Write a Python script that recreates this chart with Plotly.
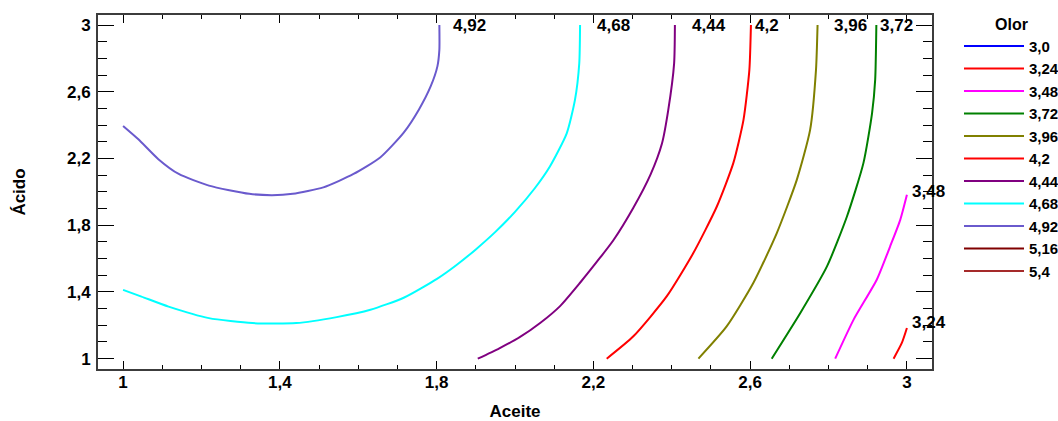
import plotly.graph_objects as go

# Contour levels of the fitted response "Olor" over Aceite (x) and Ácido (y)
levels = [3.0, 3.24, 3.48, 3.72, 3.96, 4.2, 4.44, 4.68, 4.92, 5.16, 5.4]
level_names = ["3,0", "3,24", "3,48", "3,72", "3,96", "4,2", "4,44", "4,68", "4,92", "5,16", "5,4"]
level_colors = ["#0000FF", "#FF0000", "#FF00FF", "#008000", "#808000", "#FF0000",
                "#800080", "#00FFFF", "#6A5ACD", "#800000", "#A52A2A"]

# Traced contour paths (Aceite, Ácido) for each level that crosses the region
aceite_324 = [2.966, 2.987, 3.0]
acido_324 = [1.0, 1.094, 1.184]

aceite_348 = [2.817, 2.864, 2.923, 2.957, 2.983, 3.0]
acido_348 = [1.0, 1.234, 1.473, 1.672, 1.832, 1.982]

aceite_372 = [2.655, 2.728, 2.796, 2.847, 2.889, 2.911, 2.919, 2.922]
acido_372 = [1.0, 1.274, 1.553, 1.852, 2.172, 2.471, 2.671, 3.0]

aceite_396 = [2.468, 2.540, 2.608, 2.668, 2.719, 2.753, 2.768, 2.772]
acido_396 = [1.0, 1.193, 1.453, 1.753, 2.072, 2.371, 2.731, 3.0]

aceite_420 = [2.234, 2.302, 2.387, 2.455, 2.515, 2.557, 2.583, 2.598, 2.602]
acido_420 = [1.0, 1.134, 1.373, 1.633, 1.912, 2.172, 2.431, 2.731, 3.0]

aceite_444 = [1.905, 1.960, 2.013, 2.065, 2.115, 2.166, 2.217, 2.251, 2.302, 2.346,
              2.375, 2.391, 2.406, 2.408]
acido_444 = [1.0, 1.062, 1.130, 1.215, 1.315, 1.455, 1.605, 1.710, 1.905, 2.105,
             2.290, 2.490, 2.770, 3.0]

aceite_468 = [1.0, 1.047, 1.116, 1.219, 1.330, 1.442, 1.545, 1.631, 1.716, 1.802,
              1.850, 1.900, 1.950, 2.000, 2.050, 2.089, 2.132, 2.153, 2.164, 2.166]
acido_468 = [1.412, 1.372, 1.312, 1.243, 1.213, 1.213, 1.249, 1.293, 1.365, 1.480,
             1.560, 1.655, 1.760, 1.880, 2.020, 2.152, 2.351, 2.551, 2.771, 3.0]

aceite_492 = [1.0, 1.039, 1.090, 1.142, 1.219, 1.322, 1.380, 1.433, 1.511, 1.588,
              1.656, 1.716, 1.755, 1.785, 1.802, 1.807, 1.807]
acido_492 = [2.395, 2.315, 2.196, 2.107, 2.037, 1.988, 1.980, 1.988, 2.027, 2.107,
             2.206, 2.355, 2.494, 2.633, 2.752, 2.851, 3.0]

paths = {
    3.24: (aceite_324, acido_324),
    3.48: (aceite_348, acido_348),
    3.72: (aceite_372, acido_372),
    3.96: (aceite_396, acido_396),
    4.2: (aceite_420, acido_420),
    4.44: (aceite_444, acido_444),
    4.68: (aceite_468, acido_468),
    4.92: (aceite_492, acido_492),
}

# Pixel offsets of the in-plot level labels from the end of each path
label_offsets = {
    3.24: (3, 5), 3.48: (3, 3), 3.72: (2, 0), 3.96: (14, 0),
    4.2: (2, 0), 4.44: (15, 0), 4.68: (15, 0), 4.92: (12, 0),
}

FONT = "Liberation Sans, Arial, sans-serif"

fig = go.Figure()
for lev, name, col in zip(levels, level_names, level_colors):
    if lev in paths:
        xs, ys = paths[lev]
    else:
        xs, ys = [None], [None]
    fig.add_trace(go.Scatter(
        x=xs, y=ys, mode="lines", name=name,
        line=dict(color=col, width=2, shape="spline", smoothing=0.6),
        hoverinfo="skip",
    ))

for lev, name in zip(levels, level_names):
    if lev not in paths:
        continue
    xs, ys = paths[lev]
    dx, dy = label_offsets[lev]
    fig.add_annotation(
        x=xs[-1], y=ys[-1], text=name, showarrow=False,
        xanchor="left", yanchor="middle", xshift=dx, yshift=dy,
        font=dict(family=FONT, size=17, color="black", weight="bold"),
    )

axis_common = dict(
    showline=True, linecolor="#3c3c3c", linewidth=2, mirror="ticks",
    ticks="inside", tickcolor="black", tickwidth=1,
    showgrid=False, zeroline=False,
    tick0=1, dtick=0.4,
    tickfont=dict(family=FONT, size=17, color="black", weight="bold"),
)

fig.update_xaxes(
    **axis_common, range=[0.936, 3.064], ticklen=8, ticklabelstandoff=-3,
    minor=dict(ticks="inside", tick0=1, dtick=0.1, ticklen=4, tickcolor="black", showgrid=False),
    title=dict(text="Aceite", standoff=19,
               font=dict(family=FONT, size=17, color="black", weight="bold")),
)
fig.update_yaxes(
    **axis_common, range=[0.938, 3.06], ticklen=16, ticklabelstandoff=2,
    minor=dict(ticks="inside", tick0=1, dtick=0.1, ticklen=9, tickcolor="black", showgrid=False),
    title=dict(text="Ácido", standoff=37,
               font=dict(family=FONT, size=17, color="black", weight="bold")),
)

fig.update_layout(
    width=1058, height=421,
    margin=dict(l=98, r=126, t=15, b=52, autoexpand=False),
    paper_bgcolor="white", plot_bgcolor="white",
    separators=",.",
    showlegend=True,
    legend=dict(
        xref="container", yref="container",
        x=959 / 1058, y=1 - 9 / 421, xanchor="left", yanchor="top",
        title=dict(text="Olor", side="top center",
                   font=dict(family=FONT, size=16, color="black", weight="bold")),
        font=dict(family=FONT, size=15, color="black", weight="bold"),
        itemwidth=60, tracegroupgap=0, bgcolor="rgba(0,0,0,0)",
        maxheight=400,
    ),
)

fig.write_html("out.html")
